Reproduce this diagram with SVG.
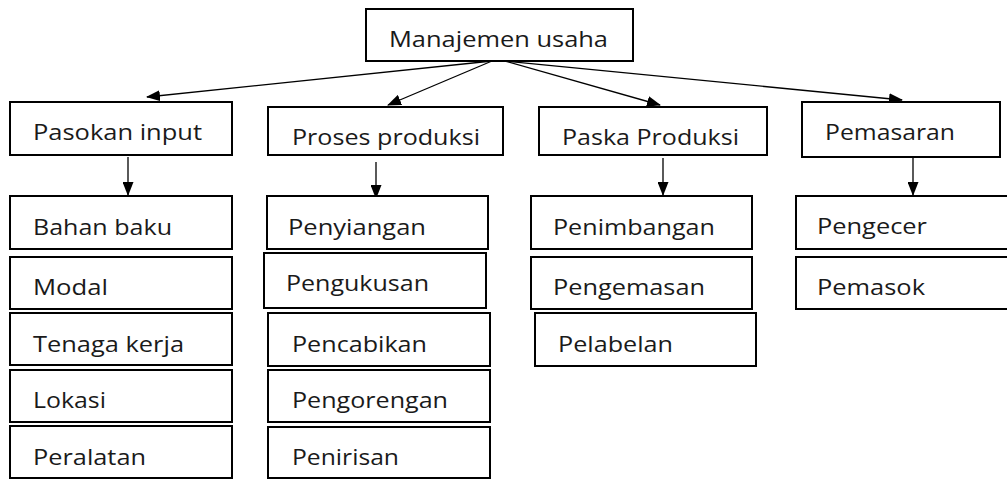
<svg xmlns="http://www.w3.org/2000/svg" width="1007" height="480" viewBox="0 0 1007 480">
<style>
.box{fill:#fff;stroke:#000;stroke-width:2}
.t{font-family:"Open Sans","Noto Sans","Liberation Sans",sans-serif;font-size:21px;fill:#1a1a1a}
.ln{stroke:#000;stroke-width:1.3;fill:none;marker-end:url(#ah)}
</style>
<defs>
<marker id="ah" markerUnits="userSpaceOnUse" markerWidth="14" markerHeight="11" refX="13" refY="5.5" orient="auto" viewBox="0 0 14 11">
<path d="M0,0 L14,5.5 L0,11 z" fill="#000"/>
</marker>
</defs>
<rect width="1007" height="480" fill="#fff"/>
<g id="connectors">
<line class="ln" x1="492" y1="61" x2="147" y2="97"/>
<line class="ln" x1="492" y1="61" x2="388" y2="105"/>
<line class="ln" x1="505" y1="61" x2="660" y2="105"/>
<line class="ln" x1="505" y1="61" x2="902" y2="100"/>
<line class="ln" x1="128" y1="157" x2="128" y2="195"/>
<line class="ln" x1="376" y1="162" x2="376" y2="198"/>
<line class="ln" x1="663" y1="158" x2="663" y2="195"/>
<line class="ln" x1="913" y1="158" x2="913" y2="195"/>
</g>
<g id="n-manajemen"><rect class="box" x="366" y="9" width="267" height="52"/><text class="t" x="389" y="47" textLength="219" lengthAdjust="spacingAndGlyphs">Manajemen usaha</text></g>
<g id="n-pasokan"><rect class="box" x="10" y="102" width="222" height="53"/><text class="t" x="33" y="140" textLength="169" lengthAdjust="spacingAndGlyphs">Pasokan input</text></g>
<g id="n-proses"><rect class="box" x="268" y="107" width="235" height="48"/><text class="t" x="292" y="145" textLength="188" lengthAdjust="spacingAndGlyphs">Proses produksi</text></g>
<g id="n-paska"><rect class="box" x="539" y="107" width="228" height="48"/><text class="t" x="562" y="145" textLength="177" lengthAdjust="spacingAndGlyphs">Paska Produksi</text></g>
<g id="n-pemasaran"><rect class="box" x="802" y="102" width="198" height="55"/><text class="t" x="825" y="140" textLength="130" lengthAdjust="spacingAndGlyphs">Pemasaran</text></g>

<g id="n-bahan"><rect class="box" x="10" y="196" width="222" height="53"/><text class="t" x="33" y="235" textLength="139" lengthAdjust="spacingAndGlyphs">Bahan baku</text></g>
<g id="n-modal"><rect class="box" x="10" y="257" width="222" height="52"/><text class="t" x="33" y="295" textLength="75" lengthAdjust="spacingAndGlyphs">Modal</text></g>
<g id="n-tenaga"><rect class="box" x="10" y="313" width="222" height="52"/><text class="t" x="33" y="352" textLength="151" lengthAdjust="spacingAndGlyphs">Tenaga kerja</text></g>
<g id="n-lokasi"><rect class="box" x="10" y="370" width="222" height="52"/><text class="t" x="33" y="408" textLength="73" lengthAdjust="spacingAndGlyphs">Lokasi</text></g>
<g id="n-peralatan"><rect class="box" x="10" y="426" width="222" height="52"/><text class="t" x="33" y="465" textLength="113" lengthAdjust="spacingAndGlyphs">Peralatan</text></g>

<g id="n-penyiangan"><rect class="box" x="267" y="196" width="221" height="53"/><text class="t" x="288" y="235" textLength="138" lengthAdjust="spacingAndGlyphs">Penyiangan</text></g>
<g id="n-pengukusan"><rect class="box" x="264" y="253" width="222" height="55"/><text class="t" x="286" y="291" textLength="143" lengthAdjust="spacingAndGlyphs">Pengukusan</text></g>
<g id="n-pencabikan"><rect class="box" x="268" y="313" width="222" height="53"/><text class="t" x="292" y="352" textLength="135" lengthAdjust="spacingAndGlyphs">Pencabikan</text></g>
<g id="n-pengorengan"><rect class="box" x="268" y="370" width="222" height="52"/><text class="t" x="292" y="408" textLength="156" lengthAdjust="spacingAndGlyphs">Pengorengan</text></g>
<g id="n-penirisan"><rect class="box" x="268" y="427" width="222" height="51"/><text class="t" x="292" y="465" textLength="107" lengthAdjust="spacingAndGlyphs">Penirisan</text></g>

<g id="n-penimbangan"><rect class="box" x="531" y="196" width="221" height="53"/><text class="t" x="553" y="235" textLength="162" lengthAdjust="spacingAndGlyphs">Penimbangan</text></g>
<g id="n-pengemasan"><rect class="box" x="531" y="257" width="221" height="52"/><text class="t" x="553" y="295" textLength="152" lengthAdjust="spacingAndGlyphs">Pengemasan</text></g>
<g id="n-pelabelan"><rect class="box" x="535" y="313" width="221" height="53"/><text class="t" x="558" y="352" textLength="115" lengthAdjust="spacingAndGlyphs">Pelabelan</text></g>

<g id="n-pengecer"><rect class="box" x="796" y="196" width="214" height="53"/><text class="t" x="817" y="234" textLength="110" lengthAdjust="spacingAndGlyphs">Pengecer</text></g>
<g id="n-pemasok"><rect class="box" x="796" y="257" width="214" height="52"/><text class="t" x="817" y="295" textLength="108" lengthAdjust="spacingAndGlyphs">Pemasok</text></g>
</svg>
